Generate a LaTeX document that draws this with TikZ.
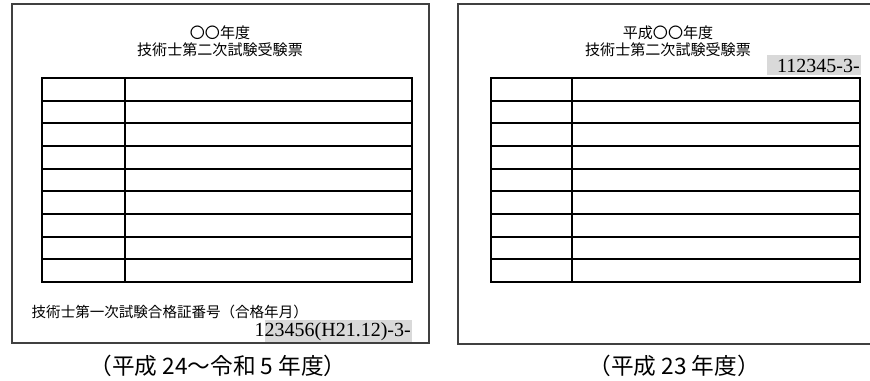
\documentclass[tikz,border=0pt]{standalone}
\usepackage{fontspec}
\setmainfont{Liberation Serif}
\newfontfamily\jpfont{Noto Sans CJK JP}
\tikzset{
  sheet/.style={draw=black!75, line width=1.2pt},
  grid/.style={draw=black, line width=1.5pt},
  numbox/.style={fill=black!15},
  head/.style={font=\jpfont\fontsize{11.3}{12.8}\selectfont, align=center},
  caption/.style={font=\jpfont\fontsize{17}{18}\selectfont},
  num/.style={inner sep=0pt, font=\fontsize{15}{15}\selectfont}
}
\begin{document}
\begin{tikzpicture}[x=0.75pt, y=-0.75pt]
\useasboundingbox (0,0) rectangle (870,380);
% left sheet
\draw[sheet] (12,4) rectangle (429,343);
\node[head] (head1) at (220,41) {〇〇年度\\技術士第二次試験受験票};
\draw[grid] (42,78) rectangle (412,282) (125,78) -- (125,282);
\foreach \i in {1,...,8}
  \draw[grid] (42,{78+\i*204/9}) -- (412,{78+\i*204/9});
\node[anchor=west, font=\jpfont\fontsize{10.9}{12}\selectfont] (pass) at (27,312) {技術士第一次試験合格証番号（合格年月）};
\fill[numbox] (265,320) rectangle (412,342);
\node[num, anchor=east] (no1) at (411,331.5) {123456(H21.12)-3-};
\node[caption] (cap1) at (218,366) {（平成 24〜令和 5 年度）};
% right sheet
\draw[sheet] (875,4) -- (458,4) -- (458,344) -- (875,344);
\node[head] (head2) at (668,41) {平成〇〇年度\\技術士第二次試験受験票};
\fill[numbox] (767,55) rectangle (861,75);
\node[num, anchor=east] (no2) at (860,65.5) {112345-3-};
\draw[grid] (491,78) rectangle (860,282) (572,78) -- (572,282);
\foreach \i in {1,...,8}
  \draw[grid] (491,{78+\i*204/9}) -- (860,{78+\i*204/9});
\node[caption] (cap2) at (674,366) {（平成 23 年度）};
\end{tikzpicture}
\end{document}
